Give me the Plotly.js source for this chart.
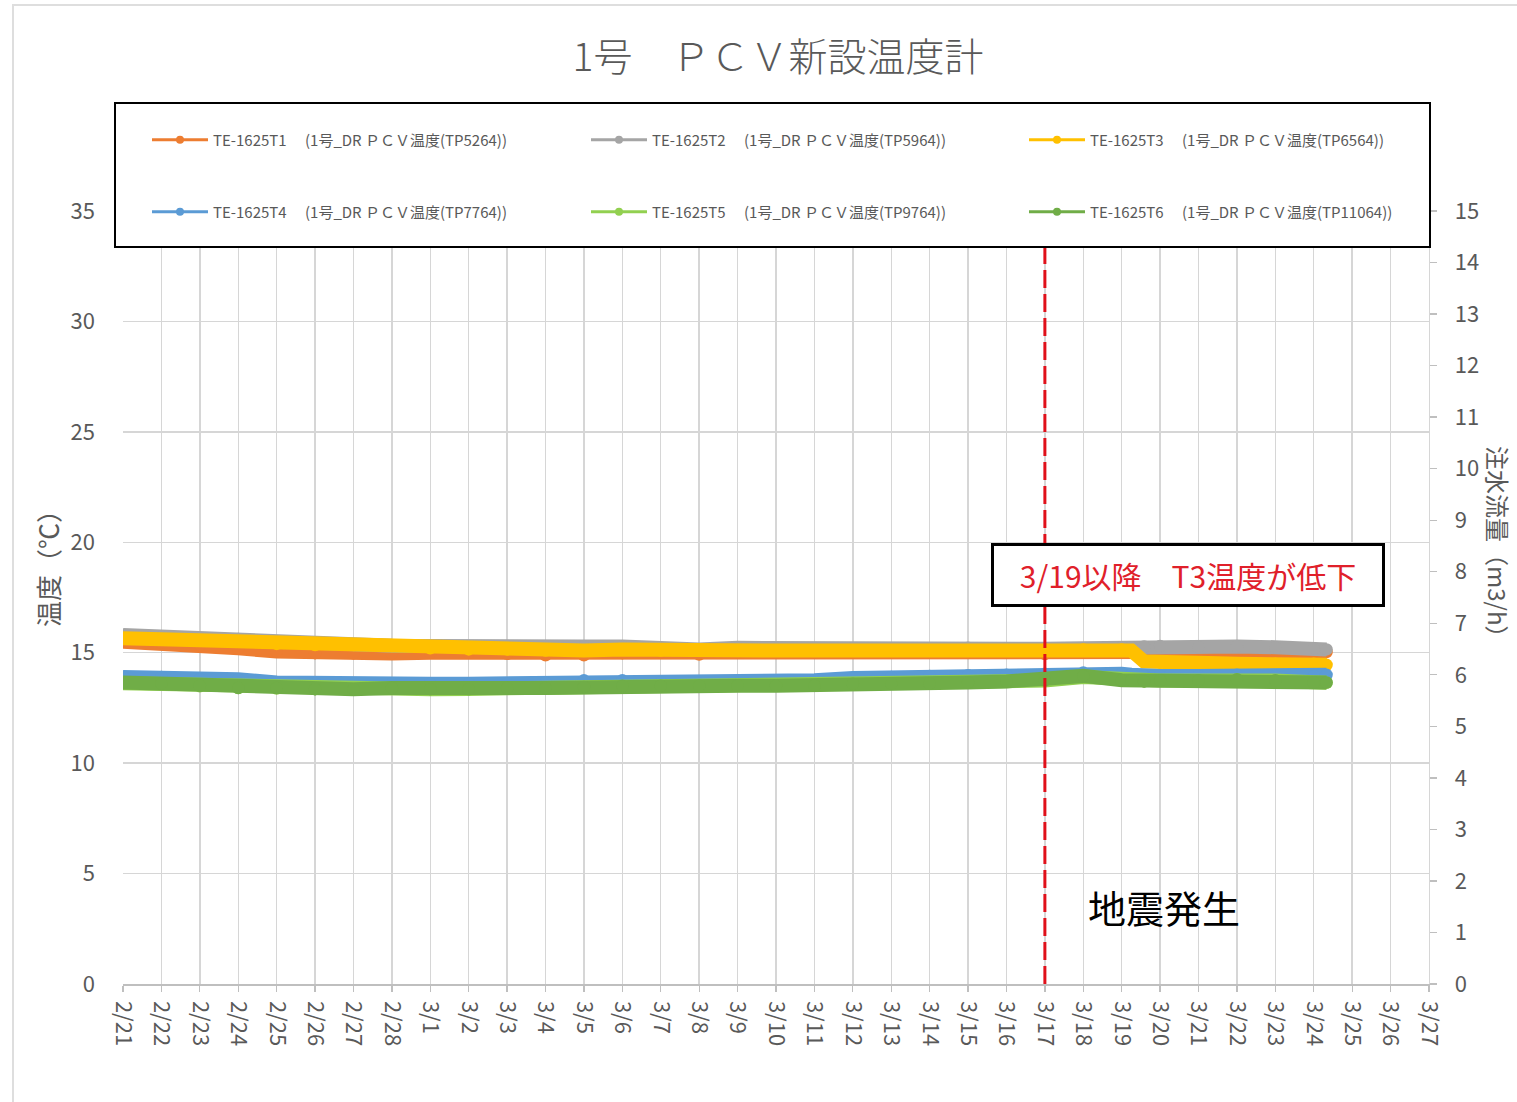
<!DOCTYPE html>
<html>
<head>
<meta charset="utf-8">
<script src="https://cdn.plot.ly/plotly-3.0.1.min.js"></script>
<style>
html,body{margin:0;padding:0;background:#fff;overflow:hidden;}
#chart{position:absolute;left:0;top:0;width:1517px;height:1102px;}
#frame{position:absolute;left:12px;top:4px;width:1540px;height:1130px;border:2px solid #dedede;pointer-events:none;z-index:5;}
</style>
</head>
<body>
<div id="chart"></div>
<div id="frame"></div>
<script>
// ---- data ----
const times = [
  "2022-02-21","2022-02-22","2022-02-23","2022-02-24","2022-02-25","2022-02-26","2022-02-27","2022-02-28",
  "2022-03-01","2022-03-02","2022-03-03","2022-03-04","2022-03-05","2022-03-06","2022-03-07","2022-03-08",
  "2022-03-09","2022-03-10","2022-03-11","2022-03-12","2022-03-13","2022-03-14","2022-03-15","2022-03-16",
  "2022-03-17","2022-03-18","2022-03-19 00:00","2022-03-19 06:00","2022-03-19 14:00","2022-03-20",
  "2022-03-21","2022-03-22","2022-03-23","2022-03-24 00:00","2022-03-24 08:00"
];
const seriesNames = [
  "TE-1625T1　 (1号_DR ＰＣＶ温度(TP5264))",
  "TE-1625T2　 (1号_DR ＰＣＶ温度(TP5964))",
  "TE-1625T3　 (1号_DR ＰＣＶ温度(TP6564))",
  "TE-1625T4　 (1号_DR ＰＣＶ温度(TP7764))",
  "TE-1625T5　 (1号_DR ＰＣＶ温度(TP9764))",
  "TE-1625T6　 (1号_DR ＰＣＶ温度(TP11064))"
];
const t1 = [15.50,15.45,15.35,15.20,15.05,14.98,14.97,14.97,15.00,15.00,14.95,14.88,14.88,14.98,15.02,14.92,
            15.02,15.03,15.03,15.02,15.03,15.03,15.02,15.03,14.94,15.02,15.03,15.03,15.03,15.04,
            15.04,15.03,15.04,15.04,15.03];
const t2 = [15.80,15.72,15.60,15.62,15.52,15.40,15.38,15.32,15.30,15.28,15.18,15.15,15.28,15.28,15.20,15.15,
            15.22,15.20,15.15,15.20,15.18,15.15,15.22,15.20,15.18,15.20,15.25,15.25,15.28,15.30,
            15.25,15.28,15.25,15.20,15.15];
const t3 = [15.65,15.60,15.55,15.50,15.40,15.35,15.35,15.30,15.20,15.15,15.15,15.10,15.10,15.15,15.10,15.10,
            15.10,15.10,15.10,15.10,15.10,15.10,15.10,15.10,15.15,15.15,15.15,15.10,14.60,14.55,
            14.55,14.50,14.50,14.50,14.45];
const t4 = [13.90,13.90,13.80,13.80,13.65,13.60,13.60,13.60,13.60,13.60,13.60,13.65,13.75,13.75,13.65,13.60,
            13.60,13.60,13.75,13.85,13.90,13.95,13.98,14.00,14.05,14.10,14.05,14.00,13.95,13.95,
            13.95,14.00,13.95,13.95,14.00];
const t5 = [13.62,13.58,13.48,13.40,13.38,13.35,13.34,13.38,13.35,13.36,13.39,13.40,13.45,13.48,13.50,13.49,
            13.50,13.50,13.50,13.58,13.60,13.60,13.64,13.70,13.74,13.90,13.75,13.74,13.70,13.74,
            13.74,13.78,13.74,13.66,13.64];
const t6 = [13.65,13.60,13.50,13.40,13.40,13.35,13.35,13.40,13.35,13.35,13.40,13.40,13.45,13.50,13.50,13.50,
            13.50,13.50,13.50,13.60,13.60,13.60,13.65,13.70,13.75,13.95,13.75,13.75,13.70,13.75,
            13.75,13.80,13.75,13.65,13.65];
const seriesValues = [t1,t2,t3,t4,t5,t6];
const xRange = ["2022-02-21","2022-03-27"];
const leftRange = [0,35];
const rightRange = [0,15];
const eventDate = "2022-03-17";
const chartTitle = "1号　ＰＣＶ新設温度計";
const leftTitle = "温度（℃）";
const rightTitle = "注水流量（m3/h）";
const noteText = "3/19以降　T3温度が低下";
const eventText = "地震発生";

// ---- styles ----
const colors = ["#ED7D31","#A5A5A5","#FFC000","#5B9BD5","#92D050","#70AD47"];
const FONT = "Noto Sans CJK JP, Noto Sans, sans-serif";
const TXT = "#595959";
const GRID = "#d6d6d6";

// plot area pixel geometry (for converting annotation positions)
const PL = 123, PR = 1429, PT = 211, PB = 984;
const px2x = p => (p - PL) / (PR - PL);
const px2y = p => (PB - p) / (PB - PT);

const traces = [];
seriesValues.forEach((vals, i) => {
  traces.push({
    type: "scatter", mode: "lines+markers", x: times, y: vals,
    line: {color: colors[i], width: 14},
    marker: {color: colors[i], size: 12.5, line: {width: 0}},
    showlegend: false, hoverinfo: "skip", xaxis: "x", yaxis: "y"
  });
});
// legend entries (one legend per entry, placed like the original grid)
const legendCols = [147, 586, 1024];
const legendRows = [140, 212];
const legendKeys = ["legend","legend2","legend3","legend4","legend5","legend6"];
seriesNames.forEach((nm, i) => {
  traces.push({
    type: "scatter", mode: "lines+markers", x: [null], y: [null], name: nm,
    line: {color: colors[i], width: 3},
    marker: {color: colors[i], size: 8},
    showlegend: true, legend: legendKeys[i], xaxis: "x", yaxis: "y2", hoverinfo: "skip"
  });
});

const layout = {
  width: 1517, height: 1102,
  paper_bgcolor: "#ffffff", plot_bgcolor: "#ffffff",
  margin: {l: PL, r: 1517 - PR, t: PT, b: 1102 - PB, pad: 0},
  font: {family: FONT, color: TXT},
  title: {text: chartTitle, font: {family: FONT, size: 39, color: TXT, weight: 300},
          x: px2x(778), xref: "paper", xanchor: "center", y: 1 - 57/1102, yref: "container", yanchor: "middle"},
  xaxis: {
    type: "date", range: xRange, tick0: xRange[0], dtick: 86400000, tickformat: "%-m/%-d",
    tickangle: 90, ticks: "outside", ticklen: 6, tickcolor: "#bfbfbf", tickwidth: 1.3,
    showgrid: true, gridcolor: GRID, gridwidth: 1.4,
    showline: true, linecolor: "#bfbfbf", linewidth: 1.5, zeroline: false,
    tickfont: {family: FONT, size: 22, color: TXT}, ticklabelstandoff: 5, fixedrange: true
  },
  yaxis: {
    range: leftRange, dtick: 5, tick0: 0, showgrid: true, gridcolor: GRID, gridwidth: 1.4,
    zeroline: false, ticks: "", showline: false,
    tickfont: {family: FONT, size: 22, color: TXT}, ticklabelstandoff: 27, fixedrange: true
  },
  yaxis2: {
    overlaying: "y", side: "right", range: rightRange, dtick: 1, tick0: 0,
    showgrid: false, zeroline: false, ticks: "outside", ticklen: 7, tickcolor: "#bfbfbf", tickwidth: 1.3,
    showline: true, linecolor: GRID, linewidth: 1.4,
    tickfont: {family: FONT, size: 22, color: TXT}, ticklabelstandoff: 13, fixedrange: true
  },
  shapes: [
    {type: "line", xref: "x", yref: "paper", x0: eventDate, x1: eventDate, y0: 0, y1: 1,
     line: {color: "#E0101A", width: 3, dash: "18px,6px"}, layer: "above"},
    {type: "rect", xref: "paper", yref: "paper", x0: px2x(115), x1: px2x(1430), y0: px2y(247), y1: px2y(103),
     line: {color: "#000000", width: 2}, fillcolor: "#ffffff", layer: "above"}
  ],
  annotations: [
    {text: noteText, xref: "paper", yref: "paper", x: px2x(1187.5), y: px2y(575), xanchor: "center", yanchor: "middle",
     showarrow: false, font: {family: FONT, size: 30, color: "#E0202A"},
     bgcolor: "#ffffff", bordercolor: "#000000", borderwidth: 3, borderpad: 0, width: 388, height: 58},
    {text: eventText, xref: "paper", yref: "paper", x: px2x(1164), y: px2y(906), xanchor: "center", yanchor: "middle",
     showarrow: false, font: {family: FONT, size: 38, color: "#000000"}},
    {text: leftTitle, xref: "paper", yref: "paper", x: px2x(47), y: px2y(562), xanchor: "center", yanchor: "middle",
     showarrow: false, textangle: -90, font: {family: FONT, size: 26, color: TXT}},
    {text: rightTitle, xref: "paper", yref: "paper", x: px2x(1499), y: px2y(548), xanchor: "center", yanchor: "middle",
     showarrow: false, textangle: 90, font: {family: FONT, size: 24, color: TXT}}
  ]
};
legendKeys.forEach((k, i) => {
  layout[k] = {
    x: px2x(legendCols[i % 3]), xanchor: "left", xref: "paper",
    y: px2y(legendRows[Math.floor(i / 3)]), yanchor: "middle", yref: "paper",
    orientation: "h", bgcolor: "rgba(0,0,0,0)", borderwidth: 0, itemwidth: 56,
    font: {family: FONT, size: 15, color: TXT}
  };
});

Plotly.newPlot("chart", traces, layout, {displayModeBar: false, staticPlot: true});
</script>
</body>
</html>
